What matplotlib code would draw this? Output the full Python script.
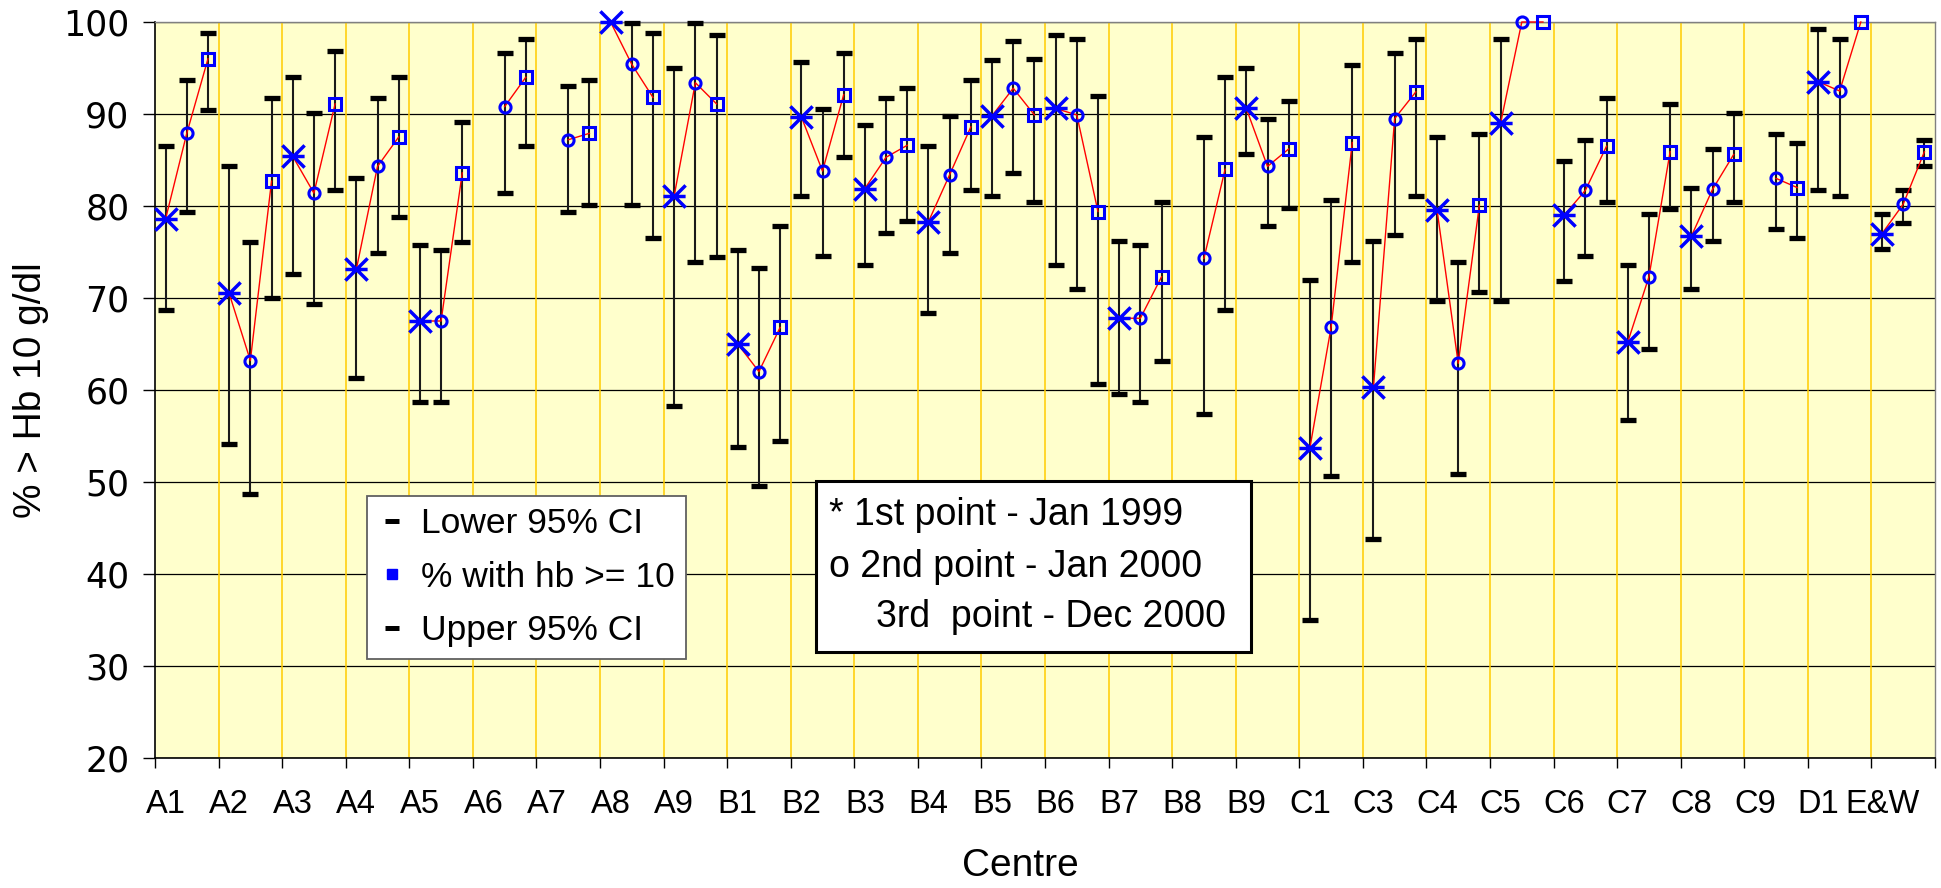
import numpy as np
import matplotlib
matplotlib.use('Agg')
import matplotlib.pyplot as plt
from matplotlib.lines import Line2D
from matplotlib.path import Path
from matplotlib.patches import Rectangle

nan = np.nan

centres = ['A1', 'A2', 'A3', 'A4', 'A5', 'A6', 'A7', 'A8', 'A9',
           'B1', 'B2', 'B3', 'B4', 'B5', 'B6', 'B7', 'B8', 'B9',
           'C1', 'C3', 'C4', 'C5', 'C6', 'C7', 'C8', 'C9', 'D1', 'E&W']

# 1st point - Jan 1999
jan99 = [78.6, 70.5, 85.4, 73.1, 67.5, nan, nan, 100.0, 81.1,
         65.0, 89.7, 81.9, 78.3, 89.8, 90.6, 67.8, nan, 90.6,
         53.7, 60.3, 79.6, 89.0, 79.0, 65.2, 76.7, nan, 93.5, 77.0]
jan99_lo = [68.7, 54.1, 72.6, 61.3, 58.7, nan, nan, nan, 58.3,
            53.8, 81.1, 73.6, 68.4, 81.1, 73.6, 59.6, nan, 85.6,
            35.0, 43.8, 69.7, 69.7, 71.9, 56.7, 71.0, nan, 81.7, 75.3]
jan99_hi = [86.5, 84.3, 94.0, 83.0, 75.8, nan, nan, nan, 95.0,
            75.2, 95.7, 88.8, 86.5, 95.9, 98.6, 76.2, nan, 95.0,
            72.0, 76.2, 87.5, 98.2, 84.9, 73.6, 82.0, nan, 99.2, 79.1]

# 2nd point - Jan 2000
jan00 = [87.9, 63.2, 81.4, 84.3, 67.5, 90.8, 87.2, 95.4, 93.4,
         62.0, 83.8, 85.3, 83.4, 92.8, 89.9, 67.8, 74.3, 84.3,
         66.8, 89.5, 62.9, 100.0, 81.7, 72.3, 81.8, 83.0, 92.5, 80.2]
jan00_lo = [79.4, 48.7, 69.4, 74.9, 58.7, 81.4, 79.4, 80.1, 73.9,
            49.6, 74.6, 77.1, 74.9, 83.6, 71.0, 58.7, 57.4, 77.8,
            50.6, 76.8, 50.9, nan, 74.6, 64.5, 76.2, 77.5, 81.1, 78.1]
jan00_hi = [93.7, 76.1, 90.1, 91.7, 75.2, 96.6, 93.0, 99.9, 99.9,
            73.3, 90.5, 91.7, 89.8, 97.9, 98.2, 75.8, 87.5, 89.5,
            80.7, 96.6, 73.9, nan, 87.2, 79.1, 86.2, 87.8, 98.2, 81.7]

# 3rd point - Dec 2000
dec00 = [96.0, 82.7, 91.1, 87.5, 83.6, 94.0, 87.9, 91.8, 91.1,
         66.8, 92.1, 86.6, 88.6, 89.9, 79.4, 72.3, 84.0, 86.2,
         86.9, 92.4, 80.1, 100.0, 86.5, 85.9, 85.6, 82.0, 100.0, 85.9]
dec00_lo = [90.4, 70.0, 81.7, 78.8, 76.1, 86.5, 80.1, 76.5, 74.5,
            54.5, 85.3, 78.4, 81.7, 80.4, 60.6, 63.2, 68.7, 79.8,
            73.9, 81.1, 70.7, nan, 80.4, 79.7, 80.4, 76.5, nan, 84.3]
dec00_hi = [98.8, 91.7, 96.9, 94.0, 89.1, 98.2, 93.7, 98.8, 98.6,
            77.8, 96.6, 92.8, 93.7, 96.0, 92.0, 80.4, 94.0, 91.4,
            95.3, 98.2, 87.8, nan, 91.7, 91.1, 90.1, 86.9, nan, 87.2]

plt.rcParams['font.family'] = ['Liberation Sans', 'DejaVu Sans']

W, H = 1941, 888
fig = plt.figure(figsize=(W / 100, H / 100), dpi=100)
ax = fig.add_axes([155 / W, 1 - 758 / H, (1935 - 155) / W, (758 - 22) / H])
ax.set_facecolor('#FFFFCC')

# star marker: X with a horizontal bar
star = Path([(-1, -1), (1, 1), (-1, 1), (1, -1), (-1, 0), (1, 0)],
            [Path.MOVETO, Path.LINETO, Path.MOVETO, Path.LINETO, Path.MOVETO, Path.LINETO])

n = len(centres)
series = [(jan99, jan99_lo, jan99_hi, star, 16, 2.5),
          (jan00, jan00_lo, jan00_hi, 'o', 8, 2.2),
          (dec00, dec00_lo, dec00_hi, 's', 8, 2.2)]

for k, (vals, lo, hi, mk, ms, mew) in enumerate(series):
    x = np.arange(n) * 3 + k
    lo = np.array(lo, float)
    hi = np.array(hi, float)
    ok = ~np.isnan(lo)
    ax.vlines(x[ok], lo[ok], hi[ok], color='#1a1a1a', lw=1.5, zorder=3)
    ax.plot(x[ok], lo[ok], ls='none', marker='_', ms=11.5, mew=3.8, color='black', zorder=3, clip_on=False)
    ax.plot(x[ok], hi[ok], ls='none', marker='_', ms=11.5, mew=3.8, color='black', zorder=3, clip_on=False)

# red line joining the three points of each centre
for i in range(n):
    xs = i * 3 + np.arange(3)
    ys = np.array([jan99[i], jan00[i], dec00[i]], float)
    m = ~np.isnan(ys)
    ax.plot(xs[m], ys[m], color='red', lw=1.0, zorder=4, clip_on=False)

for k, (vals, lo, hi, mk, ms, mew) in enumerate(series):
    x = np.arange(n) * 3 + k
    ax.plot(x, np.array(vals, float), ls='none', marker=mk, ms=ms, mew=mew,
            mec='#0000FF', mfc='none', zorder=5, clip_on=False)

# yellow separators between centres
for b in np.arange(1, n) * 3 - 0.5:
    ax.axvline(b, color='#FFCC00', lw=1.1, zorder=1)

ax.set_ylim(20, 100)
ax.set_xlim(-0.5, n * 3 - 0.5)
ax.set_yticks(np.arange(20, 101, 10))
ax.yaxis.grid(True, color='black', lw=0.9, zorder=1)
ax.set_axisbelow(True)
ax.tick_params(axis='y', direction='out', length=8.5, width=1, pad=10, labelsize=25)
for t in ax.get_yticklabels():
    t.set_family('DejaVu Sans')

ax.set_xticks(np.arange(n + 1) * 3 - 0.5)
ax.set_xticklabels([])
ax.set_xticks(np.arange(n) * 3, minor=True)
ax.set_xticklabels(centres, minor=True)
ax.tick_params(axis='x', which='major', direction='out', length=7.5, width=1)
ax.tick_params(axis='x', which='minor', length=0, pad=22, labelsize=23.5)

for s in ['left', 'bottom']:
    ax.spines[s].set_color('black')
    ax.spines[s].set_linewidth(1.2)
for s in ['top', 'right']:
    ax.spines[s].set_color('#808080')
    ax.spines[s].set_linewidth(1.0)

ax.set_ylabel('% > Hb 10 g/dl', fontsize=28, labelpad=10)
fig.text(1020 / W, 1 - 866 / H, 'Centre', fontsize=28, ha='center', va='center')

# legend
handles = [Line2D([], [], ls='none', marker='_', color='black', ms=10.5, mew=3.6),
           Line2D([], [], ls='none', marker='s', color='#0000FF', ms=7.5),
           Line2D([], [], ls='none', marker='_', color='black', ms=10.5, mew=3.6)]
leg = ax.legend(handles, ['Lower 95% CI', '% with hb >= 10', 'Upper 95% CI'],
                loc='upper left', bbox_to_anchor=(367 / W, 1 - 496 / H),
                bbox_transform=fig.transFigure, fontsize=25.5, frameon=True,
                fancybox=False, edgecolor='#606060', framealpha=1,
                borderaxespad=0, borderpad=0.32, labelspacing=0.58,
                handlelength=0.75, handletextpad=0.45)
leg.get_frame().set_linewidth(1.3)

# note box
fig.patches.append(Rectangle((816 / W, 1 - 652 / H), 435 / W, 171 / H,
                             transform=fig.transFigure, facecolor='white',
                             edgecolor='black', lw=2.2, zorder=10))
fig.text(829 / W, 1 - 515 / H, '* 1st point - Jan 1999', fontsize=27, va='center', zorder=11)
fig.text(829 / W, 1 - 567 / H, 'o 2nd point - Jan 2000', fontsize=27, va='center', zorder=11)
fig.text(876 / W, 1 - 617 / H, '3rd  point - Dec 2000', fontsize=27, va='center', zorder=11)

fig.savefig('out.png', dpi=100)
